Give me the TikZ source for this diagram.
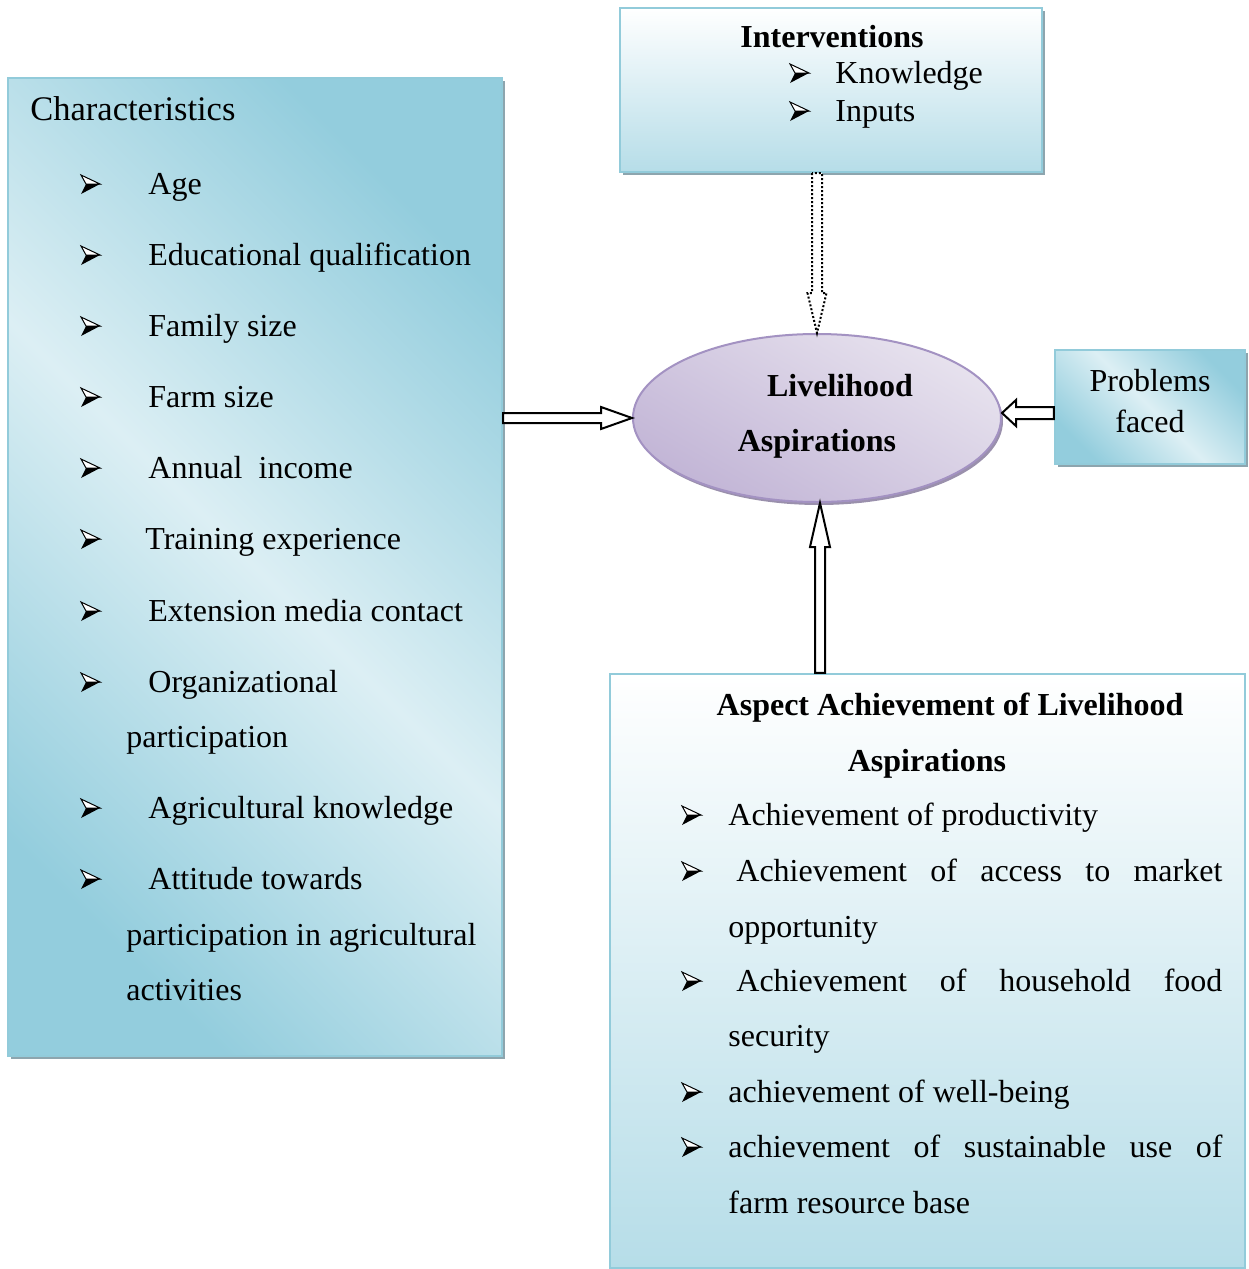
\documentclass[tikz,border=0pt]{standalone}
\usepackage{fontspec}
\setmainfont{Liberation Serif}
\usetikzlibrary{shapes.geometric, shadows, calc}

\definecolor{aquadark}{HTML}{93CDDD}
\definecolor{aqualight}{HTML}{DCEFF4}
\definecolor{aquapale}{HTML}{B6DDE8}
\definecolor{aquaedge}{HTML}{92CBDA}
\definecolor{panelshadow}{HTML}{8DA5AE}
\definecolor{lilaclight}{HTML}{E7E2EE}
\definecolor{lilacdark}{HTML}{C2B5D6}
\definecolor{lilacedge}{HTML}{A392C2}
\definecolor{lilacshadow}{HTML}{9A90AC}

\newcommand{\bodysize}{\fontsize{16}{20}\selectfont}

\tikzstyle{panel} = [rectangle, draw=aquaedge, line width=1.2pt]
\tikzstyle{diagpanel} = [top color=aquadark, bottom color=aquadark, middle color=aqualight, shading angle=-45]
\tikzstyle{vertpanel} = [top color=white, bottom color=aquapale]
\tikzstyle{boxshadow} = [drop shadow={shadow xshift=1.5pt, shadow yshift=-1.5pt, fill=panelshadow, opacity=1}]
\tikzstyle{goal} = [ellipse, draw=lilacedge, line width=1pt, top color=lilaclight, bottom color=lilacdark, shading angle=-30,
drop shadow={shadow xshift=1pt, shadow yshift=-1.5pt, fill=lilacshadow, opacity=1}]
\tikzstyle{item} = [anchor=west, inner sep=0pt, text height=12.5pt, text depth=2pt, font=\bodysize]
\tikzstyle{head} = [inner sep=0pt, text height=12.5pt, text depth=2pt, font=\bodysize\bfseries]
\tikzstyle{plain} = [inner sep=0pt, text height=12.5pt, text depth=2pt, font=\bodysize]
\tikzstyle{blockarrow} = [draw=black, line width=1pt, fill=white, line join=miter]

% 3d arrowhead bullet
\tikzset{arrowbullet/.pic={
  \filldraw[fill=white, draw=black, line width=0.5pt, line join=miter] (0,-9) -- (19,0) -- (5,0) -- cycle;
  \fill[black] (5,0) -- (19,0) -- (0,10) -- cycle;
}}

\begin{document}
\begin{tikzpicture}[x=0.5pt, y=-0.5pt]
\useasboundingbox (0,0) rectangle (1248,1269);

% boxes
\node (chars) [panel, diagpanel, boxshadow, minimum width=247pt, minimum height=489pt] at (255,567) {};
\node (intv) [panel, vertpanel, boxshadow, minimum width=211pt, minimum height=82pt] at (831,90) {};
\node (prob) [panel, diagpanel, boxshadow, minimum width=95pt, minimum height=57pt] at (1150,407) {};
\node (asp) [panel, vertpanel, minimum width=317.5pt, minimum height=297pt] at (927.5,971) {};
\node (ell) [goal, minimum width=184pt, minimum height=84pt] at (817,418) {};

% characteristics
\node (chtitle) [item, font=\fontsize{17.25}{20}\selectfont] at (30,110) {Characteristics};
\pic at (81,184) {arrowbullet};
\node (age) [item] at (148,184) {Age};
\pic at (81,255) {arrowbullet};
\node (edu) [item] at (148,255) {Educational qualification};
\pic at (81,326) {arrowbullet};
\node (fam) [item] at (148,326) {Family size};
\pic at (81,397) {arrowbullet};
\node (farm) [item] at (148,397) {Farm size};
\pic at (81,468) {arrowbullet};
\node (inc) [item] at (148,468) {Annual\ \ income};
\pic at (81,539) {arrowbullet};
\node (train) [item] at (145,539) {Training experience};
\pic at (81,611) {arrowbullet};
\node (ext) [item] at (148,611) {Extension media contact};
\pic at (81,682) {arrowbullet};
\node (org) [item] at (148,682) {Organizational};
\node (org2) [item] at (126,737) {participation};
\pic at (81,808) {arrowbullet};
\node (agk) [item] at (148,808) {Agricultural knowledge};
\pic at (81,879) {arrowbullet};
\node (att) [item] at (148,879) {Attitude towards};
\node (att2) [item] at (126,935) {participation in agricultural};
\node (att3) [item] at (126,990) {activities};

% interventions
\node (ivtitle) [head, anchor=west] at (740,37) {Interventions};
\pic at (790,73) {arrowbullet};
\node (know) [item] at (835,73) {Knowledge};
\pic at (790,111) {arrowbullet};
\node (inp) [item] at (835,111) {Inputs};

% goal
\node (lv1) [head] at (840,386) {Livelihood};
\node (lv2) [head] at (817,441) {Aspirations};

% problems
\node (pr1) [plain] at (1150,381) {Problems};
\node (pr2) [plain] at (1150,422) {faced};

% aspects
\node (astitle) [head] at (950,705) {Aspect Achievement of Livelihood};
\node (astitle2) [head] at (927,761) {Aspirations};
\pic at (682,815) {arrowbullet};
\node (prod) [item] at (728,815) {Achievement of productivity};
\pic at (682,871) {arrowbullet};
\node (mkt) [item] at (736,871) {\makebox[243pt][s]{Achievement of access to market}};
\node (mkt2) [item] at (728,927) {opportunity};
\pic at (682,981) {arrowbullet};
\node (food) [item] at (736,981) {\makebox[243pt][s]{Achievement of household food}};
\node (food2) [item] at (728,1036) {security};
\pic at (682,1092) {arrowbullet};
\node (well) [item] at (728,1092) {achievement of well-being};
\pic at (682,1147) {arrowbullet};
\node (sus) [item] at (728,1147) {\makebox[247pt][s]{achievement of sustainable use of}};
\node (sus2) [item] at (728,1203) {farm resource base};

% block arrows
\draw [blockarrow] let \p1=(chars.east |- ell.west), \p2=(ell.west) in
  (\x1,\y1+2.5pt) -- (\x2-15.5pt,\y1+2.5pt) -- (\x2-15.5pt,\y1+5.5pt) -- (\x2,\y1)
  -- (\x2-15.5pt,\y1-5.5pt) -- (\x2-15.5pt,\y1-2.5pt) -- (\x1,\y1-2.5pt) -- cycle;
\draw [blockarrow] let \p1=($(prob.west)+(0,6)$), \p2=(ell.east) in
  (\x1,\y1+3pt) -- (\x2+7pt,\y1+3pt) -- (\x2+7pt,\y1+6.5pt) -- (\x2,\y1)
  -- (\x2+7pt,\y1-6.5pt) -- (\x2+7pt,\y1-3pt) -- (\x1,\y1-3pt) -- cycle;
\draw [blockarrow] let \p1=($(ell.south |- asp.north)+(3,0)$), \p2=($(ell.south)+(3,0)$) in
  (\x1-2.5pt,\y1) -- (\x1-2.5pt,\y2-22pt) -- (\x1-5pt,\y2-22pt) -- (\x2,\y2)
  -- (\x1+5pt,\y2-22pt) -- (\x1+2.5pt,\y2-22pt) -- (\x1+2.5pt,\y1) -- cycle;
\draw [blockarrow, densely dotted] let \p1=(ell.north |- intv.south), \p2=(ell.north) in
  (\x1-2.5pt,\y1) -- (\x1-2.5pt,\y2+20pt) -- (\x1-4.75pt,\y2+20pt) -- (\x2,\y2)
  -- (\x1+4.75pt,\y2+20pt) -- (\x1+2.5pt,\y2+20pt) -- (\x1+2.5pt,\y1) -- cycle;

\end{tikzpicture}
\end{document}
